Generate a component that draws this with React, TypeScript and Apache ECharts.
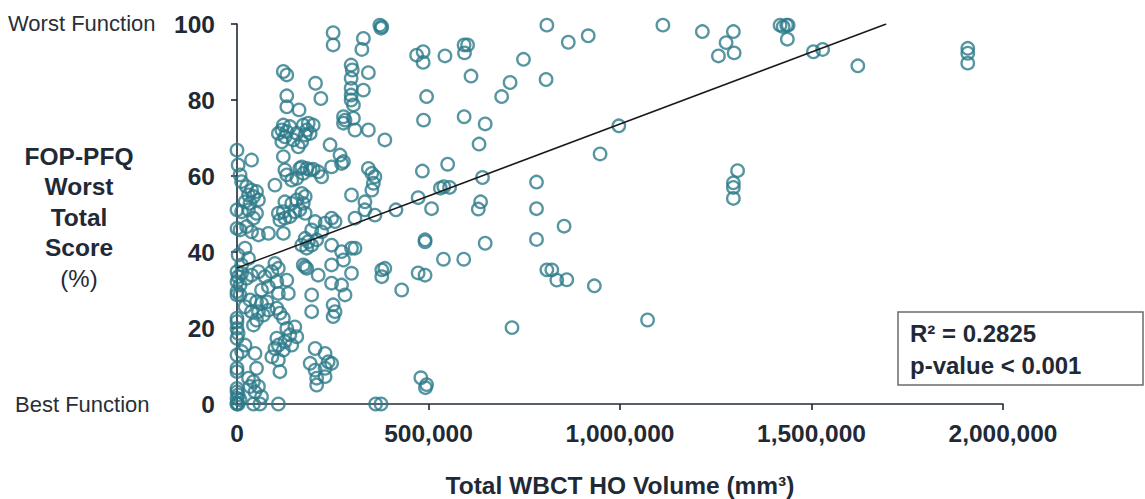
import React, { useEffect, useRef } from "react";
import * as echarts from "echarts";

// Total WBCT HO volume, in thousands of mm³
const hoVolumeK = [
  809, 865, 917, 1112, 1215, 1296, 1277, 1257, 1298, 1418, 1426, 1435, 1439, 1437, 1505, 1529, 1621, 1908, 1908, 1908,
  469, 486, 486, 543, 593, 602, 594, 611, 748, 713, 691, 807, 495, 487, 593, 648, 632, 997, 948, 484,
  550, 641, 782, 473, 531, 540, 555, 508, 415, 636, 630, 782, 854, 491, 491, 782, 648, 539, 592, 473,
  491, 430, 809, 822, 835, 861, 933, 1072, 718, 480, 495, 492, 1307, 1296, 1296, 1296,
  373, 378, 376, 251, 251, 330, 326, 298, 301, 298, 343, 121, 130, 205, 219, 298, 298, 330, 130, 130,
  298, 304, 162, 278, 278, 282, 304, 308, 343, 386, 121, 117, 130, 138, 125, 147, 156, 173, 186, 199,
  182, 178, 191, 169, 160, 108, 117, 121, 243, 269, 278, 273, 0, 38, 3, 8, 12, 169, 182, 191,
  199, 212, 221, 173, 164, 247, 125, 130, 143, 156, 99, 343, 352, 360, 356, 352, 299, 334, 25, 38,
  51, 30, 43, 56, 21, 34, 125, 143, 156, 169, 178, 173,
  0, 12, 30, 51, 43, 0, 8, 25, 38, 56, 82, 108, 121, 125, 138, 151, 164, 178, 112, 121,
  204, 230, 247, 256, 221, 195, 308, 334, 360, 178, 186, 195, 208, 169, 182, 247, 273, 299, 278, 308,
  21, 30, 3, 12, 99, 108, 91, 173, 178, 182, 212, 247, 247, 273, 299, 282, 378, 386, 378, 0,
  3, 12, 25, 38, 56, 73, 0, 8, 0, 8, 0, 104, 130, 134, 108, 64, 82, 195, 195, 251,
  256, 251, 34, 51, 64, 78, 38, 56, 69, 51, 43, 21, 82, 104, 112, 121, 0, 0, 0, 3,
  0, 130, 151, 138, 156, 125, 143, 104, 108, 121, 99, 91, 108, 112, 47, 51, 21, 12, 0, 0,
  0, 204, 230, 238, 230, 247, 191, 204, 208, 230, 208, 30, 43, 56, 34, 47, 0, 0, 3, 0,
  0, 3, 0, 8, 64, 43, 60, 108, 362, 376,
];

// FOP-PFQ worst total score (%)
const fopScore = [
  99.7, 95.2, 96.9, 99.7, 98, 98, 95.1, 91.6, 92.4, 99.7, 99.3, 99.7, 99.7, 96, 92.7, 93.3, 89, 93.6, 92.3, 89.7,
  91.8, 92.7, 89.9, 91.6, 94.5, 94.5, 92.4, 86.3, 90.7, 84.6, 80.9, 85.4, 80.9, 74.7, 75.6, 73.7, 68.4, 73.2, 65.8, 61.3,
  63.1, 59.6, 58.4, 54.3, 56.8, 57.2, 57, 51.4, 51.1, 53.2, 51.3, 51.4, 46.8, 43.2, 42.7, 43.3, 42.3, 38.1, 38.1, 34.5,
  33.9, 30, 35.3, 35.3, 32.6, 32.7, 31.1, 22.1, 20.1, 6.9, 5.1, 4.3, 61.4, 58.2, 57.0, 54.1,
  99.7, 99.3, 98.9, 97.7, 94.5, 96.2, 93.3, 89.2, 87.9, 85.7, 87.2, 87.5, 86.6, 84.4, 80.4, 83.1, 81.3, 82.6, 81.1, 78.2,
  80, 78.7, 77.4, 75.6, 73.9, 74.7, 75.2, 72.1, 72.1, 69.5, 73.4, 72.1, 71.7, 73, 70.3, 69.5, 71.2, 73.4, 73.9, 73.4,
  72.1, 70.8, 71.2, 69, 67.7, 71.2, 69, 65.1, 68.2, 65.5, 63.8, 63.3, 66.8, 64.2, 62.9, 60.3, 58.5, 62.4, 62, 61.6,
  61.8, 61.1, 59.8, 60.7, 62, 62.4, 61.6, 60.3, 58.9, 59.4, 57.6, 62, 60.7, 59.8, 58.1, 56.3, 55, 53.2, 57.2, 56.3,
  55.9, 55, 54.6, 53.7, 53.2, 52.8, 53.2, 52.8, 53.7, 55.4, 54.6, 52.8,
  51.1, 50.6, 51.1, 50.2, 48.9, 46.2, 45.8, 46.7, 45.3, 44.5, 44.9, 50.2, 50.6, 48.9, 49.3, 50.6, 51.1, 50.2, 48.4, 44.9,
  48, 47.6, 48.9, 48, 45.3, 45.8, 48.9, 51.1, 49.7, 43.6, 42.7, 41.8, 43.2, 41.8, 41, 41.8, 40.1, 41, 37.9, 41,
  41, 38.3, 39.2, 36.6, 37, 35.7, 34.8, 36.6, 36.1, 35.7, 33.9, 36.6, 31.8, 31.3, 34.4, 28.7, 35.3, 35.7, 33.5, 34.8,
  33.5, 34.4, 33.1, 33.9, 34.8, 33.5, 32.2, 31.3, 29.6, 28.7, 28.7, 32.2, 32.6, 29.1, 29.1, 30, 30.9, 28.7, 24.3, 26.1,
  24.3, 23, 27.4, 26.9, 26.5, 26.9, 24.3, 24.3, 23.4, 22.1, 20.8, 25.6, 24.7, 25.2, 23.9, 22.6, 22.6, 21.7, 19.9, 18.6,
  17.3, 19.9, 20.3, 18.2, 17.7, 16.4, 15.5, 17.3, 15.5, 14.2, 14.6, 12.4, 11.6, 8.5, 13.3, 9.4, 15.5, 13.8, 12.9, 9.4,
  8.5, 14.6, 13.3, 11.1, 9.4, 10.7, 10.7, 8.9, 6.8, 7.2, 5, 6.8, 5.9, 4.6, 4.6, 3.2, 4.1, 3.2, 2.4, 1.5,
  0.2, 0, 0, 1.1, 1.9, 0, 0, 0, 0, 0,
];

// Linear trend line end points (volume mm³, score %)
const trendX = [0, 1695000];
const trendY = [35.8, 100];

const yTicks = [0, 20, 40, 60, 80, 100];
const xTicks = [0, 500000, 1000000, 1500000, 2000000];

const yTitleLines = ["FOP-PFQ", "Worst", "Total", "Score"];
const yTitleUnit = "(%)";
const statLines = ["R² = 0.2825", "p-value < 0.001"];

const FONT = "'Liberation Sans', Arial, Helvetica, sans-serif";
const DARK = "#1f2a36";
const TEAL = "#2d7b8a";

export default function App() {
  const ref = useRef<HTMLDivElement>(null);

  useEffect(() => {
    if (!ref.current) return;
    const chart = echarts.init(ref.current, undefined, { renderer: "svg" });

    const points = hoVolumeK.map((v, i) => [v * 1000, fopScore[i]]);
    const trend = trendX.map((x, i) => [x, trendY[i]]);

    const yTitleGraphics: any[] = yTitleLines.map((t, i) => ({
      type: "text",
      x: 79,
      y: 156 + i * 30.5,
      style: {
        text: t,
        fill: DARK,
        font: `bold 24.5px ${FONT}`,
        textAlign: "center",
        textVerticalAlign: "middle",
      },
    }));
    yTitleGraphics.push({
      type: "text",
      x: 79,
      y: 156 + 4 * 30.5,
      style: {
        text: yTitleUnit,
        fill: DARK,
        font: `24px ${FONT}`,
        textAlign: "center",
        textVerticalAlign: "middle",
      },
    });

    chart.setOption({
      animation: false,
      backgroundColor: "#ffffff",
      grid: {
        left: 237,
        right: 142,
        top: 24,
        bottom: 95,
        containLabel: false,
        outerBoundsMode: "none",
      },
      xAxis: {
        type: "value",
        min: xTicks[0],
        max: xTicks[xTicks.length - 1],
        interval: 500000,
        name: "Total WBCT HO Volume (mm³)",
        nameLocation: "middle",
        nameGap: 69,
        nameTextStyle: { fontFamily: FONT, fontWeight: "bold", fontSize: 24.5, color: DARK },
        axisLine: { show: true, onZero: false, lineStyle: { color: DARK, width: 1.6 } },
        axisTick: { show: true, inside: false, length: 6, lineStyle: { color: DARK, width: 1.6 } },
        axisLabel: {
          margin: 17,
          fontFamily: FONT,
          fontWeight: "bold",
          fontSize: 24.5,
          color: DARK,
          formatter: (v: number) => v.toLocaleString("en-US"),
        },
        splitLine: { show: false },
      },
      yAxis: {
        type: "value",
        min: yTicks[0],
        max: yTicks[yTicks.length - 1],
        interval: 20,
        axisLine: { show: true, onZero: false, lineStyle: { color: DARK, width: 1.6 } },
        axisTick: { show: true, inside: false, length: 6, lineStyle: { color: DARK, width: 1.6 } },
        axisLabel: {
          margin: 22,
          fontFamily: FONT,
          fontWeight: "bold",
          fontSize: 24.5,
          color: DARK,
        },
        splitLine: { show: false },
      },
      series: [
        {
          type: "scatter",
          data: points,
          symbol: "circle",
          symbolSize: 12.5,
          itemStyle: { color: "rgba(255,255,255,0)", borderColor: TEAL, borderWidth: 2.3 },
          z: 2,
        },
        {
          type: "line",
          data: trend,
          symbol: "none",
          lineStyle: { color: "#1a1a1a", width: 1.5 },
          z: 3,
        },
      ],
      graphic: [
        {
          type: "text",
          x: 8,
          y: 23,
          style: {
            text: "Worst Function",
            fill: "#2a2f36",
            font: `22px ${FONT}`,
            textVerticalAlign: "middle",
          },
        },
        {
          type: "text",
          x: 15,
          y: 404,
          style: {
            text: "Best Function",
            fill: "#2a2f36",
            font: `22px ${FONT}`,
            textVerticalAlign: "middle",
          },
        },
        ...yTitleGraphics,
        {
          type: "rect",
          shape: { x: 898, y: 312, width: 245, height: 73 },
          style: { fill: "#ffffff", stroke: "#6b6b6b", lineWidth: 1.5 },
          z: 10,
        },
        ...statLines.map((t, i) => ({
          type: "text",
          x: 910,
          y: 333 + i * 32,
          z: 11,
          style: {
            text: t,
            fill: DARK,
            font: `bold 24px ${FONT}`,
            textVerticalAlign: "middle",
          },
        })),
      ],
    });

    return () => chart.dispose();
  }, []);

  return (
    <div
      ref={ref}
      style={{ position: "fixed", left: 0, top: 0, width: 1145, height: 499 }}
    />
  );
}
